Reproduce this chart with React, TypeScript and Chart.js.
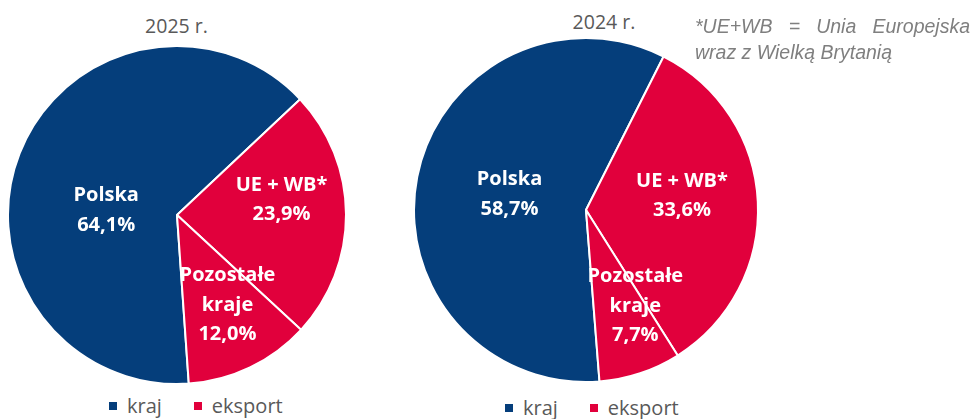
import React, { useEffect, useRef } from "react";
import { Chart, registerables } from "chart.js";

Chart.register(...registerables);

// ---- data ----
const categories = ["Polska", "UE + WB*", "Pozostałe kraje"];
const sliceLabelLines = [["Polska"], ["UE + WB*"], ["Pozostałe", "kraje"]];
const values2025 = [64.1, 23.9, 12.0];
const values2024 = [58.7, 33.6, 7.7];
const yearTitles = ["2025 r.", "2024 r."];
const legendLabels = ["kraj", "eksport"];
const footnoteLines = ["*UE+WB = Unia Europejska", "wraz z Wielką Brytanią"];

// ---- styles ----
const NAVY = "#053E7B";
const RED = "#E1003C";
const sliceColors = [NAVY, RED, RED];
const legendColors = [NAVY, RED];
const GRAY = "#595959";

const fmt = (v: number) => v.toFixed(1).replace(".", ",") + "%";

const sliceLabelPlugin = {
  id: "sliceLabels",
  afterDatasetsDraw(chart: any, _args: any, opts: any) {
    const anchors = opts && opts.anchors;
    if (!anchors) return;
    const meta = chart.getDatasetMeta(0);
    const ds = chart.data.datasets[0];
    const ctx = chart.ctx;
    ctx.save();
    ctx.fillStyle = "#ffffff";
    ctx.font = "bold 20px 'Open Sans'";
    ctx.textAlign = "center";
    ctx.textBaseline = "middle";
    meta.data.forEach((arc: any, i: number) => {
      const { x, y, outerRadius } = arc.getProps(["x", "y", "outerRadius"], true);
      const a = anchors[i];
      const th = (a.angle * Math.PI) / 180;
      const cx = x + Math.sin(th) * a.r * outerRadius;
      const cy = y - Math.cos(th) * a.r * outerRadius;
      const lines = [...sliceLabelLines[i], fmt(ds.data[i] as number)];
      const lh = opts.lineHeight;
      lines.forEach((t: string, k: number) => {
        ctx.fillText(t, cx, cy + (k - (lines.length - 1) / 2) * lh);
      });
    });
    ctx.restore();
  },
};

type PieProps = {
  values: number[];
  size: number;
  left: number;
  top: number;
  radius: number;
  rotation: number;
  anchors: { angle: number; r: number }[];
};

function Pie({ values, size, left, top, radius, rotation, anchors }: PieProps) {
  const ref = useRef<HTMLCanvasElement | null>(null);
  useEffect(() => {
    if (!ref.current) return;
    const chart = new Chart(ref.current, {
      type: "pie",
      data: {
        labels: categories,
        datasets: [
          {
            data: values,
            backgroundColor: sliceColors,
            borderColor: "#ffffff",
            borderWidth: 2,
          },
        ],
      },
      options: {
        responsive: false,
        maintainAspectRatio: false,
        animation: false,
        rotation,
        radius,
        layout: { padding: 0 },
        plugins: {
          legend: { display: false },
          tooltip: { enabled: false },
          sliceLabels: { anchors, lineHeight: 29.5 },
        } as any,
      },
      plugins: [sliceLabelPlugin as any],
    });
    return () => chart.destroy();
  }, []);
  return (
    <canvas
      ref={ref}
      width={size}
      height={size}
      style={{ position: "absolute", left, top, width: size, height: size, display: "block" }}
    />
  );
}

function Legend({ left, top }: { left: number; top: number }) {
  return (
    <div
      style={{
        position: "absolute",
        left,
        top,
        display: "flex",
        alignItems: "center",
        fontFamily: "'Open Sans'",
        fontSize: 20,
        lineHeight: "20px",
        color: GRAY,
        whiteSpace: "nowrap",
      }}
    >
      {legendLabels.map((l, i) => (
        <div key={l} style={{ display: "flex", alignItems: "center", marginRight: i === 0 ? 32 : 0 }}>
          <span style={{ width: 8, height: 8, background: legendColors[i], display: "inline-block", marginRight: 10 }} />
          <span>{l}</span>
        </div>
      ))}
    </div>
  );
}

function Title({ text, cx, top }: { text: string; cx: number; top: number }) {
  return (
    <div
      style={{
        position: "absolute",
        left: cx - 100,
        width: 200,
        top,
        textAlign: "center",
        fontFamily: "'Open Sans'",
        fontSize: 19.5,
        lineHeight: "19.5px",
        color: GRAY,
        whiteSpace: "nowrap",
      }}
    >
      {text}
    </div>
  );
}

export default function App() {
  return (
    <div
      style={{
        position: "fixed",
        left: 0,
        top: 0,
        width: 974,
        height: 419,
        overflow: "hidden",
        background: "#ffffff",
      }}
    >
      <Title text={yearTitles[0]} cx={176.5} top={15.7} />
      <Title text={yearTitles[1]} cx={604} top={12.2} />
      <Pie
        values={values2025}
        size={344}
        left={5}
        top={43}
        radius={169}
        rotation={176}
        anchors={[
          { angle: 274, r: 0.42 },
          { angle: 81.8, r: 0.625 },
          { angle: 150.7, r: 0.61 },
        ]}
      />
      <Pie
        values={values2024}
        size={352}
        left={410}
        top={34}
        radius={172}
        rotation={175.5}
        anchors={[
          { angle: 281.5, r: 0.454 },
          { angle: 81.7, r: 0.564 },
          { angle: 152.8, r: 0.627 },
        ]}
      />
      <Legend left={109} top={396} />
      <Legend left={505} top={397.5} />
      <div
        style={{
          position: "absolute",
          left: 695,
          top: 13,
          width: 275,
          fontFamily: "'Liberation Sans', Arial, sans-serif",
          fontStyle: "italic",
          fontSize: 19.5,
          lineHeight: "26px",
          color: "#7f7f7f",
        }}
      >
        <div style={{ textAlign: "justify", textAlignLast: "justify", whiteSpace: "nowrap" } as any}>
          {footnoteLines[0]}
        </div>
        <div style={{ whiteSpace: "nowrap" }}>{footnoteLines[1]}</div>
      </div>
    </div>
  );
}
